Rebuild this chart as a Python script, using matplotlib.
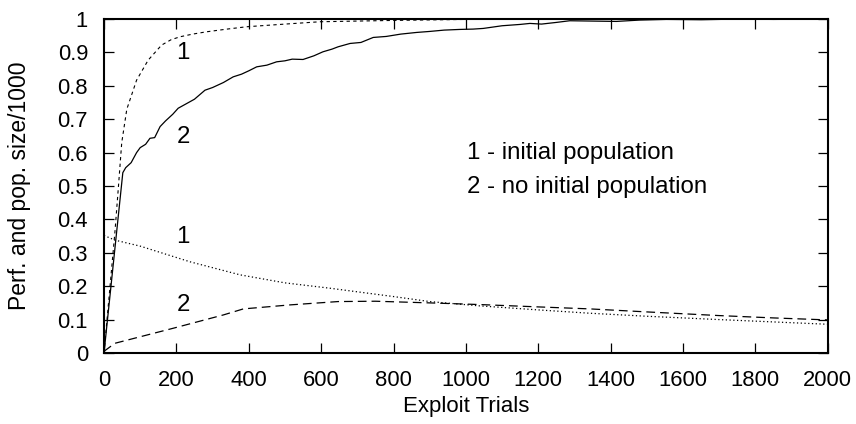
import matplotlib
matplotlib.use("Agg")
import matplotlib.pyplot as plt

# curve 1 (initial population): performance, dashed
perf_init_x = [0, 30, 40, 49, 63, 90, 122, 159, 185, 210, 245, 284, 340, 394, 500, 597, 800,
               1000, 1400, 2000]
perf_init_y = [0, 0.36, 0.50, 0.63, 0.73, 0.817, 0.877, 0.922, 0.938, 0.947, 0.955, 0.962,
               0.970, 0.977, 0.985, 0.992, 0.996, 0.999, 1.0, 1.0]

# curve 2 (no initial population): performance, solid
perf_none_x = [0, 52, 60, 75, 90, 100, 115, 127, 140, 155, 170, 190, 205, 225, 250, 279, 300,
               330, 357, 380, 400, 422, 450, 477, 500, 520, 550, 580, 605, 630, 647, 680, 710,
               744, 780, 820, 864, 900, 940, 983, 1020, 1048, 1100, 1150, 1177, 1209, 1250,
               1287, 1350, 1416, 1480, 1554, 1650, 1750, 1850, 2000]
perf_none_y = [0, 0.54, 0.555, 0.57, 0.60, 0.615, 0.625, 0.643, 0.645, 0.678, 0.695, 0.715,
               0.733, 0.745, 0.76, 0.787, 0.795, 0.81, 0.827, 0.835, 0.845, 0.857, 0.862,
               0.872, 0.875, 0.88, 0.879, 0.89, 0.902, 0.91, 0.917, 0.927, 0.93, 0.945, 0.948,
               0.955, 0.96, 0.963, 0.967, 0.969, 0.97, 0.972, 0.98, 0.984, 0.987, 0.985, 0.99,
               0.995, 0.994, 0.993, 0.997, 0.999, 0.998, 1.0, 0.999, 1.0]

# curve 1: population size / 1000, dotted
pop_init_x = [0, 30, 100, 238, 376, 500, 624, 800, 900, 1039, 1200, 1343, 1500, 1700, 1850, 2000]
pop_init_y = [0.352, 0.338, 0.32, 0.273, 0.234, 0.21, 0.194, 0.169, 0.154, 0.141, 0.129,
              0.119, 0.110, 0.100, 0.093, 0.086]

# curve 2: population size / 1000, long dashed
pop_none_x = [0, 30, 191, 330, 385, 514, 647, 750, 900, 1039, 1200, 1343, 1500, 1700, 1850, 2000]
pop_none_y = [0.005, 0.029, 0.074, 0.114, 0.132, 0.144, 0.154, 0.155, 0.150, 0.145, 0.138,
              0.132, 0.123, 0.112, 0.105, 0.099]

plt.rcParams["font.family"] = ["Liberation Sans", "DejaVu Sans"]
plt.rcParams["font.size"] = 15.8

fig = plt.figure(figsize=(8.56, 4.24), dpi=100)
ax = fig.add_axes([0.1215, 0.1675, 0.8455, 0.7875])

ax.plot(perf_init_x, perf_init_y, color="black", lw=0.8, dashes=(3, 3))
ax.plot(perf_none_x, perf_none_y, color="black", lw=0.9)
ax.plot(pop_init_x, pop_init_y, color="black", lw=0.9, dashes=(1, 2))
ax.plot(pop_none_x, pop_none_y, color="black", lw=0.9, dashes=(7, 4))

lbl = 17.3
ax.text(219, 0.897, "1", ha="center", va="center", fontsize=lbl)
ax.text(219, 0.648, "2", ha="center", va="center", fontsize=lbl)
ax.text(219, 0.348, "1", ha="center", va="center", fontsize=lbl)
ax.text(219, 0.144, "2", ha="center", va="center", fontsize=lbl)
ax.text(1003, 0.60, "1 - initial population", ha="left", va="center", fontsize=lbl)
ax.text(1003, 0.498, "2 - no initial population", ha="left", va="center", fontsize=lbl)

ax.set_xlim(0, 2000)
ax.set_ylim(0, 1)
ax.set_xticks(range(0, 2001, 200))
yt = [i / 10 for i in range(11)]
ax.set_yticks(yt)
ax.set_yticklabels(["0" if v == 0 else ("1" if v == 1 else f"{v:.1f}") for v in yt])
ax.tick_params(direction="in", length=7.5, width=0.9, top=True, right=True)
ax.tick_params(axis="x", pad=12.5)
ax.tick_params(axis="y", pad=11.5)
for s in ax.spines.values():
    s.set_linewidth(1.5)

ax.set_xlabel("Exploit Trials", fontsize=16, labelpad=3)
ax.set_ylabel("Perf. and pop. size/1000", fontsize=16.5, labelpad=19)

fig.savefig("out.png", dpi=100)
